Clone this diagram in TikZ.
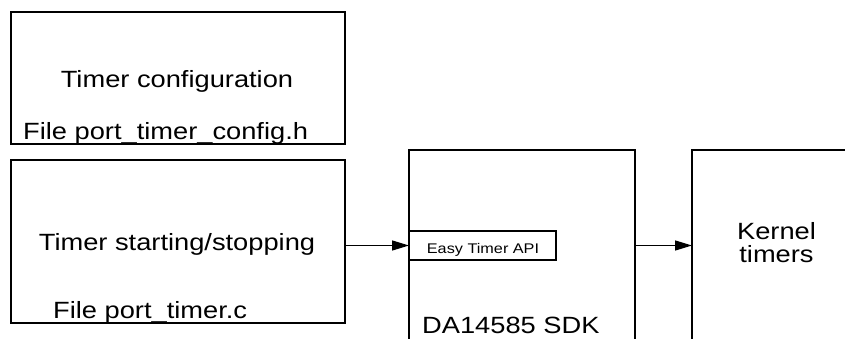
\documentclass[tikz,border=0pt]{standalone}
\usepackage{fontspec}
\setmainfont{Liberation Sans}[FakeStretch=1.16]
\usetikzlibrary{arrows.meta}
\begin{document}
\begin{tikzpicture}[x=1pt,y=-1pt,
  box/.style={draw=black, line width=1.4pt, fill=none, inner sep=0pt, outer sep=0pt, rectangle},
  big/.style={font=\fontsize{23.5}{23}\selectfont, inner sep=0pt},
  small/.style={font=\fontsize{14}{14}\selectfont, inner sep=0pt},
  arr/.style={line width=1.4pt, -{Triangle[length=17pt,width=10pt]}}]
\useasboundingbox (0,0) rectangle (845,338);
\clip (0,0) rectangle (845,338);
% boxes
\node[box, anchor=north west, minimum width=334pt, minimum height=132pt] (cfg) at (11,12) {};
\node[box, anchor=north west, minimum width=334pt, minimum height=163pt] (start) at (11,160) {};
\node[box, anchor=north west, minimum width=226pt, minimum height=220pt] (sdk) at (409,150) {};
\node[box, anchor=north west, minimum width=200pt, minimum height=220pt] (kernel) at (692,150) {};
\node[box, anchor=north west, minimum width=147pt, minimum height=29pt] (api) at (409,231) {};
% texts
\node[big, anchor=base] (cfgt) at (177,87) {Timer configuration};
\node[big, anchor=base west] (cfgf) at (23,139) {File port\_timer\_config.h};
\node[big, anchor=base] (startt) at (177,250) {Timer starting/stopping};
\node[big, anchor=base west] (startf) at (53,318) {File port\_timer.c};
\node[big, anchor=base west] (sdkt) at (422,333) {DA14585 SDK};
\node[small, anchor=base] (apit) at (483,253) {Easy Timer API};
\node[big, anchor=base] (kt1) at (776.5,239) {Kernel};
\node[big, anchor=base] (kt2) at (776.5,262) {timers};
% arrows
\draw[arr] (start.east |- api.west) -- (api.west);
\draw[arr] (sdk.east |- api.west) -- (kernel.west |- api.west);
\end{tikzpicture}
\end{document}
